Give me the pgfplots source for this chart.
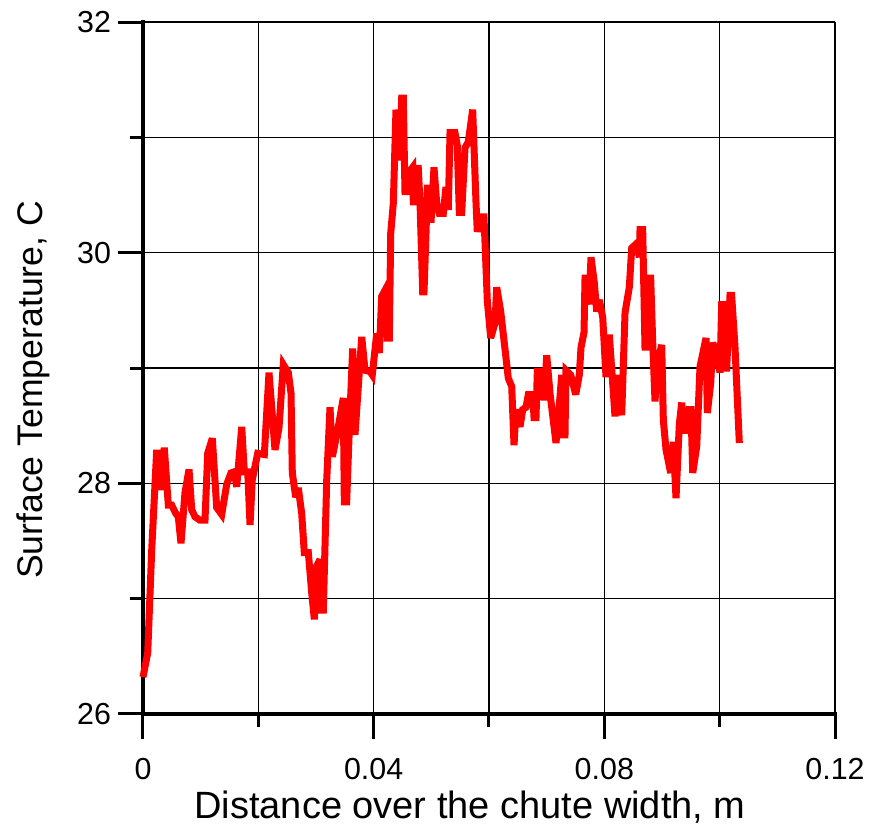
\documentclass[border=0pt]{standalone}
\usepackage{fontspec}
\setmainfont{Liberation Sans}
\usepackage{pgfplots}
\pgfplotsset{compat=1.18}

% Surface temperature profile across the chute
\pgfplotstableread{
x        T
0.00000  26.32
0.00082  26.53
0.00151  27.42
0.00238  28.29
0.00277  27.94
0.00312  28.29
0.00335  27.94
0.00369  28.31
0.00439  27.81
0.00498  27.81
0.00567  27.74
0.00612  27.71
0.00659  27.48
0.00728  27.92
0.00798  28.12
0.00845  27.77
0.00902  27.71
0.00988  27.68
0.01075  27.68
0.01122  28.26
0.01202  28.39
0.01278  27.79
0.01365  27.73
0.01451  27.99
0.01526  28.09
0.01583  28.10
0.01625  27.97
0.01712  28.49
0.01757  28.10
0.01816  28.10
0.01856  27.64
0.01895  28.03
0.01989  28.26
0.02104  28.25
0.02185  28.96
0.02289  28.29
0.02358  28.48
0.02433  29.03
0.02520  28.96
0.02567  28.78
0.02589  28.09
0.02648  27.88
0.02693  27.96
0.02752  27.74
0.02797  27.40
0.02867  27.40
0.02926  27.05
0.02971  26.82
0.03000  27.27
0.03069  27.34
0.03099  26.90
0.03127  26.90
0.03186  28.03
0.03243  28.66
0.03283  28.23
0.03376  28.46
0.03473  28.74
0.03491  27.84
0.03532  27.84
0.03577  28.46
0.03636  29.17
0.03676  28.42
0.03793  29.27
0.03850  28.98
0.03936  28.97
0.03976  28.94
0.04023  29.16
0.04053  29.30
0.04098  29.13
0.04139  29.62
0.04214  29.69
0.04236  29.26
0.04271  29.26
0.04296  30.17
0.04341  30.43
0.04387  31.24
0.04445  30.80
0.04486  31.34
0.04514  31.34
0.04543  30.53
0.04583  30.53
0.04618  30.70
0.04677  30.74
0.04687  30.44
0.04717  30.44
0.04734  30.73
0.04774  30.73
0.04804  30.43
0.04850  29.66
0.04873  29.66
0.04908  30.17
0.04930  30.56
0.04977  30.56
0.04994  30.26
0.05046  30.74
0.05093  30.43
0.05138  30.34
0.05208  30.34
0.05254  30.57
0.05294  30.37
0.05324  31.04
0.05410  31.04
0.05450  30.93
0.05485  30.35
0.05527  30.35
0.05584  30.91
0.05641  30.96
0.05717  31.24
0.05775  30.43
0.05797  30.18
0.05844  30.31
0.05913  30.31
0.05971  29.58
0.06030  29.26
0.06104  29.39
0.06134  29.70
0.06203  29.49
0.06260  29.24
0.06335  28.91
0.06394  28.84
0.06434  28.33
0.06468  28.64
0.06538  28.49
0.06585  28.64
0.06642  28.66
0.06682  28.77
0.06758  28.77
0.06781  28.57
0.06815  28.57
0.06838  28.97
0.06914  28.97
0.06954  28.72
0.07001  29.11
0.07058  28.78
0.07162  28.35
0.07231  28.75
0.07261  28.94
0.07278  28.42
0.07318  28.42
0.07335  28.98
0.07417  28.94
0.07504  28.77
0.07566  28.94
0.07596  29.18
0.07648  29.31
0.07665  29.78
0.07705  29.78
0.07734  29.55
0.07769  29.96
0.07826  29.74
0.07868  29.49
0.07913  29.59
0.07972  29.44
0.08029  28.92
0.08086  29.29
0.08185  28.58
0.08243  28.94
0.08301  28.59
0.08359  29.48
0.08433  29.70
0.08475  30.04
0.08561  30.08
0.08607  29.96
0.08619  30.20
0.08665  30.20
0.08705  29.18
0.08745  29.18
0.08762  29.78
0.08804  29.78
0.08839  29.22
0.08879  28.71
0.08919  29.04
0.08995  29.20
0.09023  28.55
0.09070  28.29
0.09151  28.09
0.09196  28.36
0.09243  27.87
0.09300  28.51
0.09342  28.70
0.09382  28.46
0.09439  28.46
0.09474  28.64
0.09503  28.64
0.09533  28.09
0.09602  28.32
0.09659  29.01
0.09763  29.26
0.09786  28.61
0.09845  28.87
0.09879  29.22
0.09959  29.10
0.10006  28.96
0.10035  29.55
0.10063  29.55
0.10093  29.00
0.10122  29.00
0.10179  29.63
0.10208  29.63
0.10266  29.18
0.10341  28.35
}\profile

\begin{document}
\begin{tikzpicture}
% fixed page frame around the axis box
\path[use as bounding box] (-71.5pt,-55.5pt) rectangle (363pt,357pt);
\begin{axis}[
  at={(0,0)}, anchor=south west,
  scale only axis,
  width=346pt, height=346pt,
  xmin=0, xmax=0.12, ymin=26, ymax=32,
  axis lines*=left,
  axis line style={line width=1.75pt, line cap=rect},
  xtick={0,0.04,0.08,0.12},
  xticklabels={0,0.04,0.08,0.12},
  minor xtick={0.02,0.06,0.1},
  ytick={26,28,30,32},
  yticklabels={26,28,30,32},
  minor ytick={27,29,31},
  tick align=outside,
  major tick length=12.5pt,
  minor tick length=6.5pt,
  every tick/.style={black, line width=1.5pt},
  grid=both,
  major grid style={black, line width=0.7pt},
  minor grid style={black, line width=0.7pt},
  /pgf/number format/assume math mode=true,
  tick label style={font=\fontsize{15.2}{17}\selectfont},
  xticklabel style={anchor=north, yshift=-6pt},
  yticklabel style={anchor=east},
  xlabel={Distance over the chute width, m},
  ylabel={Surface Temperature, C},
  xlabel style={font=\fontsize{19}{22}\selectfont,
    at={([xshift=-9.5pt,yshift=-52.5pt]axis description cs:0.5,0)}, anchor=base},
  ylabel style={font=\fontsize{17.8}{21}\selectfont,
    at={([xshift=-50pt,yshift=-11pt]axis description cs:0,0.5)}, anchor=base, rotate=0},
  clip=false,
]
\addplot[color=red, line width=3.5pt, line join=miter, miter limit=4, mark=none] table[x=x, y=T] {\profile};
\end{axis}
\end{tikzpicture}
\end{document}
